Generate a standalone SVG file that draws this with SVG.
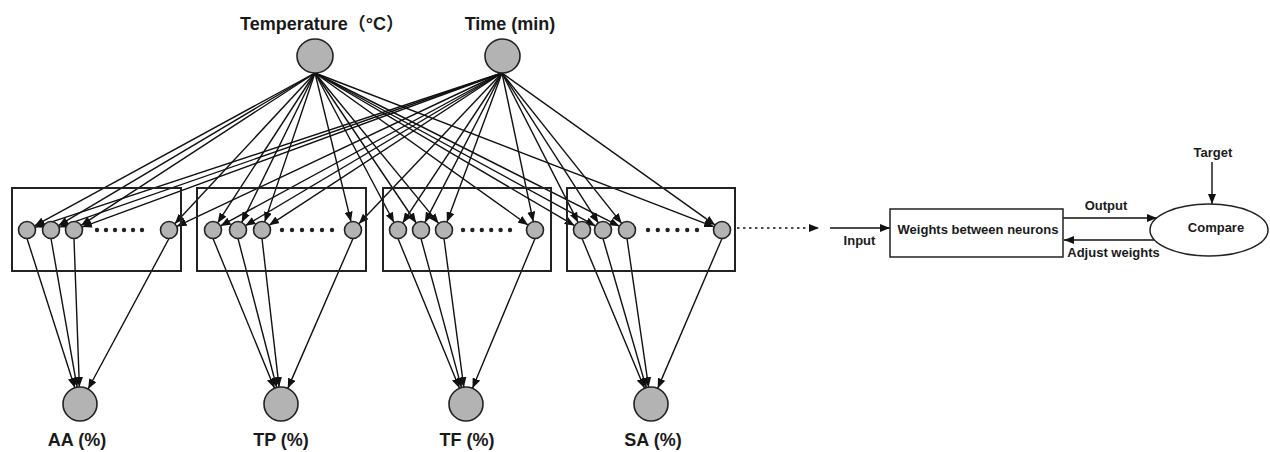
<svg xmlns="http://www.w3.org/2000/svg" width="1270" height="452" viewBox="0 0 1270 452">
<style>
.t{font-family:"Liberation Sans",Arial,"Noto Sans CJK SC",sans-serif;font-weight:bold;fill:#1a1a1a}
.big{font-size:18px}
.sm{font-size:13px}
.n{fill:#b3b3b3;stroke:#222;stroke-width:1.6}
.box{fill:none;stroke:#222;stroke-width:2}
.c line{stroke:#111;stroke-width:1.4;marker-end:url(#ah)}
.dot{fill:#222}
</style>
<defs>
<marker id="ah" markerUnits="userSpaceOnUse" markerWidth="10" markerHeight="8" refX="10" refY="4" orient="auto">
<path d="M0,0 L10,4 L0,8 z" fill="#111"/>
</marker>
</defs>
<rect width="1270" height="452" fill="#fff"/>
<g id="connectors" class="c">
<line x1="315" y1="73" x2="34.5" y2="225.9"/>
<line x1="315" y1="73" x2="58.3" y2="225.7"/>
<line x1="315" y1="73" x2="81.1" y2="225.4"/>
<line x1="315" y1="73" x2="174.8" y2="223.8"/>
<line x1="315" y1="73" x2="217.6" y2="222.9"/>
<line x1="315" y1="73" x2="241.7" y2="222.4"/>
<line x1="315" y1="73" x2="264.7" y2="221.9"/>
<line x1="315" y1="73" x2="351.0" y2="221.7"/>
<line x1="315" y1="73" x2="394.0" y2="222.5"/>
<line x1="315" y1="73" x2="416.2" y2="223.0"/>
<line x1="315" y1="73" x2="438.6" y2="223.4"/>
<line x1="315" y1="73" x2="528.1" y2="225.1"/>
<line x1="315" y1="73" x2="574.7" y2="225.7"/>
<line x1="315" y1="73" x2="595.5" y2="225.9"/>
<line x1="315" y1="73" x2="619.4" y2="226.2"/>
<line x1="315" y1="73" x2="714.1" y2="226.9"/>
<line x1="502" y1="73" x2="35.1" y2="227.3"/>
<line x1="502" y1="73" x2="59.0" y2="227.2"/>
<line x1="502" y1="73" x2="82.0" y2="227.1"/>
<line x1="502" y1="73" x2="176.7" y2="226.4"/>
<line x1="502" y1="73" x2="220.5" y2="225.9"/>
<line x1="502" y1="73" x2="245.3" y2="225.7"/>
<line x1="502" y1="73" x2="269.1" y2="225.3"/>
<line x1="502" y1="73" x2="358.9" y2="223.8"/>
<line x1="502" y1="73" x2="402.7" y2="222.9"/>
<line x1="502" y1="73" x2="424.9" y2="222.4"/>
<line x1="502" y1="73" x2="446.9" y2="222.0"/>
<line x1="502" y1="73" x2="533.3" y2="221.7"/>
<line x1="502" y1="73" x2="578.1" y2="222.4"/>
<line x1="502" y1="73" x2="598.4" y2="222.9"/>
<line x1="502" y1="73" x2="621.7" y2="223.4"/>
<line x1="502" y1="73" x2="715.1" y2="225.1"/>
<line x1="27" y1="238.5" x2="74.8" y2="387.8"/>
<line x1="51" y1="238.5" x2="77.1" y2="387.3"/>
<line x1="74" y1="238.5" x2="79.4" y2="387.0"/>
<line x1="169" y1="238.5" x2="88.1" y2="389.0"/>
<line x1="213" y1="238.5" x2="274.5" y2="388.3"/>
<line x1="238" y1="238.5" x2="276.7" y2="387.5"/>
<line x1="262" y1="238.5" x2="279.1" y2="387.1"/>
<line x1="353" y1="238.5" x2="287.8" y2="388.4"/>
<line x1="398" y1="238.5" x2="459.5" y2="388.3"/>
<line x1="421" y1="238.5" x2="461.5" y2="387.6"/>
<line x1="444" y1="238.5" x2="463.8" y2="387.2"/>
<line x1="535" y1="238.5" x2="472.5" y2="388.3"/>
<line x1="582" y1="238.5" x2="644.5" y2="388.3"/>
<line x1="603" y1="238.5" x2="646.3" y2="387.7"/>
<line x1="627" y1="238.5" x2="648.6" y2="387.2"/>
<line x1="722" y1="238.5" x2="657.7" y2="388.4"/>
<line x1="737" y1="228" x2="819" y2="228" stroke-dasharray="2.5,3.5"/>
<line x1="830" y1="228" x2="890" y2="228"/>
<line x1="1063" y1="218" x2="1157" y2="218"/>
<line x1="1154" y1="240" x2="1064" y2="240"/>
<line x1="1212" y1="162" x2="1212" y2="204"/>
</g>
<g id="input-temperature">
<ellipse class="n" cx="315" cy="56" rx="18" ry="17"/>
<text class="t big" x="322" y="30" text-anchor="middle">Temperature（°C）</text>
</g>
<g id="input-time">
<ellipse class="n" cx="502.5" cy="56" rx="17.5" ry="17"/>
<text class="t big" x="510" y="30" text-anchor="middle">Time (min)</text>
</g>
<g id="hidden-1">
<rect class="box" x="12" y="188" width="169" height="83"/>
<circle class="n" cx="27" cy="230" r="8.5"/>
<circle class="n" cx="51" cy="230" r="8.5"/>
<circle class="n" cx="74" cy="230" r="8.5"/>
<circle class="n" cx="169" cy="230" r="8.5"/>
<circle class="dot" cx="97" cy="230" r="2.2"/><circle class="dot" cx="106" cy="230" r="2.2"/><circle class="dot" cx="115" cy="230" r="2.2"/><circle class="dot" cx="124" cy="230" r="2.2"/><circle class="dot" cx="133" cy="230" r="2.2"/><circle class="dot" cx="142" cy="230" r="2.2"/>
</g>
<g id="hidden-2">
<rect class="box" x="197" y="188" width="169" height="83"/>
<circle class="n" cx="213" cy="230" r="8.5"/>
<circle class="n" cx="238" cy="230" r="8.5"/>
<circle class="n" cx="262" cy="230" r="8.5"/>
<circle class="n" cx="353" cy="230" r="8.5"/>
<circle class="dot" cx="282" cy="230" r="2.2"/><circle class="dot" cx="292" cy="230" r="2.2"/><circle class="dot" cx="302" cy="230" r="2.2"/><circle class="dot" cx="312" cy="230" r="2.2"/><circle class="dot" cx="322" cy="230" r="2.2"/><circle class="dot" cx="332" cy="230" r="2.2"/>
</g>
<g id="hidden-3">
<rect class="box" x="383" y="188" width="168" height="83"/>
<circle class="n" cx="398" cy="230" r="8.5"/>
<circle class="n" cx="421" cy="230" r="8.5"/>
<circle class="n" cx="444" cy="230" r="8.5"/>
<circle class="n" cx="535" cy="230" r="8.5"/>
<circle class="dot" cx="463" cy="230" r="2.2"/><circle class="dot" cx="472.4" cy="230" r="2.2"/><circle class="dot" cx="481.8" cy="230" r="2.2"/><circle class="dot" cx="491.2" cy="230" r="2.2"/><circle class="dot" cx="500.6" cy="230" r="2.2"/><circle class="dot" cx="510" cy="230" r="2.2"/>
</g>
<g id="hidden-4">
<rect class="box" x="567" y="188" width="168" height="83"/>
<circle class="n" cx="582" cy="230" r="8.5"/>
<circle class="n" cx="603" cy="230" r="8.5"/>
<circle class="n" cx="627" cy="230" r="8.5"/>
<circle class="n" cx="722" cy="230" r="8.5"/>
<circle class="dot" cx="648" cy="230" r="2.2"/><circle class="dot" cx="657.8" cy="230" r="2.2"/><circle class="dot" cx="667.6" cy="230" r="2.2"/><circle class="dot" cx="677.4" cy="230" r="2.2"/><circle class="dot" cx="687.2" cy="230" r="2.2"/><circle class="dot" cx="697" cy="230" r="2.2"/>
</g>
<g id="output-aa">
<ellipse class="n" cx="80" cy="404" rx="17" ry="17"/>
<text class="t big" x="77" y="446" text-anchor="middle">AA (%)</text>
</g>
<g id="output-tp">
<ellipse class="n" cx="281" cy="404" rx="17" ry="17"/>
<text class="t big" x="281" y="446" text-anchor="middle">TP (%)</text>
</g>
<g id="output-tf">
<ellipse class="n" cx="466" cy="404" rx="17" ry="17"/>
<text class="t big" x="467" y="446" text-anchor="middle">TF (%)</text>
</g>
<g id="output-sa">
<ellipse class="n" cx="651" cy="404" rx="17" ry="17"/>
<text class="t big" x="653" y="446" text-anchor="middle">SA (%)</text>
</g>
<g id="weights">
<rect x="890" y="209" width="173" height="48" fill="none" stroke="#222" stroke-width="1.5"/>
<text class="t sm" x="978" y="234" text-anchor="middle">Weights between neurons</text>
</g>
<g id="compare">
<ellipse cx="1209" cy="230" rx="59" ry="26" fill="none" stroke="#222" stroke-width="1.5"/>
<text class="t sm" x="1216" y="232" text-anchor="middle">Compare</text>
</g>
<g id="labels">
<text class="t sm" x="859.5" y="245" text-anchor="middle">Input</text>
<text class="t sm" x="1106" y="210" text-anchor="middle">Output</text>
<text class="t sm" x="1113.5" y="257" text-anchor="middle">Adjust weights</text>
<text class="t sm" x="1213" y="157" text-anchor="middle">Target</text>
</g>
</svg>
